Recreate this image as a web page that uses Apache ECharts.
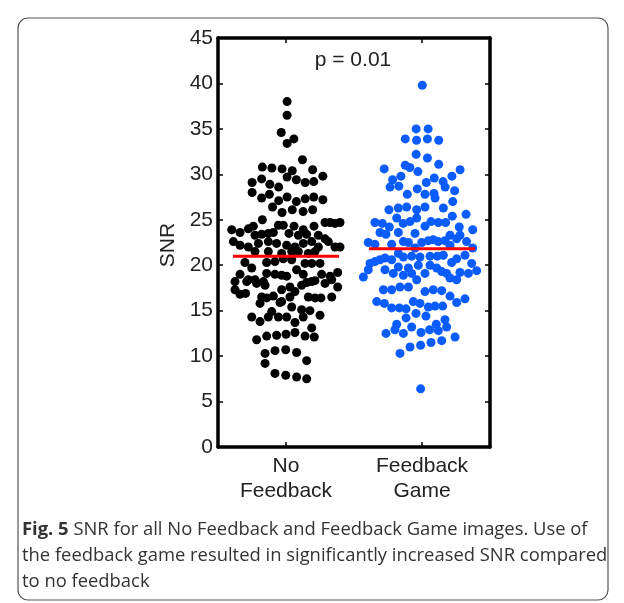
<!DOCTYPE html>
<html><head><meta charset="utf-8">
<script src="https://cdn.jsdelivr.net/npm/echarts@6/dist/echarts.min.js"></script>
<style>html,body{margin:0;padding:0;background:#fff}#c{width:624px;height:603px}</style>
</head><body><div id="c"></div><script>
// ---- data ----
const categories = ['No\nFeedback', 'Feedback\nGame'];
const yTicks = [0, 5, 10, 15, 20, 25, 30, 35, 40, 45];
const pValueText = 'p = 0.01';
const medians = [21.0, 21.8];

// No Feedback: horizontal swarm offset from the category centre, and SNR
const noFeedbackOffset = [
 0.008,0.008,-0.035,0.008,0.058,0.121,-0.174,-0.104,-0.029,0.046,
 0.196,-0.249,-0.179,-0.119,-0.054,0.008,0.076,0.141,0.204,0.271,
 -0.249,-0.179,-0.122,-0.054,0.008,0.076,0.141,0.204,0.271,-0.099,
 -0.029,0.046,0.126,0.196,-0.174,-0.056,-0.020,0.059,0.206,0.287,
 0.324,0.360,0.397,-0.399,-0.338,-0.277,-0.240,-0.228,-0.179,-0.130,
 -0.093,0.022,0.091,0.127,0.152,0.238,0.287,-0.387,-0.338,-0.277,
 -0.203,-0.130,-0.069,0.005,0.066,0.127,0.189,0.238,0.311,0.360,
 0.397,-0.228,-0.130,-0.032,0.042,0.091,0.164,0.213,-0.302,-0.252,
 -0.142,-0.081,-0.020,0.042,0.140,0.189,0.250,-0.338,-0.277,-0.228,
 -0.166,-0.142,-0.081,-0.032,0.005,0.078,0.127,0.189,0.262,0.324,
 0.380,-0.375,-0.289,-0.216,-0.154,-0.032,0.029,0.115,0.152,0.213,
 0.287,0.336,0.380,-0.375,-0.338,-0.297,-0.179,-0.142,-0.093,-0.032,
 0.029,0.066,0.164,0.213,0.257,0.336,-0.191,-0.044,0.042,0.115,
 0.176,-0.252,-0.191,-0.130,-0.105,-0.056,0.005,0.066,0.127,0.189,
 0.250,-0.216,-0.142,-0.069,0.000,0.066,0.140,0.208,-0.154,-0.154,
 -0.081,-0.002,0.078,0.152,-0.081,-0.002,0.078,0.152
];
const noFeedbackSNR = [
 38.0,36.5,34.6,33.4,33.9,31.6,30.8,30.7,30.6,30.4,
 30.5,29.1,29.5,28.9,28.6,29.7,29.4,29.1,29.2,29.8,
 28.0,27.4,27.8,27.1,27.5,27.0,27.3,27.5,27.2,26.4,
 25.8,26.1,25.9,26.1,25.0,24.4,24.4,24.3,24.3,24.7,
 24.7,24.6,24.7,23.9,23.6,24.0,24.3,23.3,23.4,23.5,
 23.6,23.5,23.3,23.9,23.4,23.3,22.9,22.6,22.2,22.0,
 22.4,22.6,22.4,22.2,22.0,22.4,22.6,22.0,22.6,22.0,
 22.0,21.5,21.5,21.3,21.5,21.5,21.3,21.5,20.3,19.7,
 20.3,20.4,20.7,20.6,20.2,20.2,20.2,19.0,18.4,18.4,
 18.2,19.1,19.0,18.9,18.8,19.5,19.0,18.2,19.0,18.8,
 19.2,18.2,18.2,18.0,17.8,17.3,17.6,17.8,18.1,18.3,
 18.0,18.4,17.6,17.3,16.8,16.9,16.5,16.4,16.6,16.0,
 16.5,17.1,16.5,16.4,16.4,16.5,15.8,15.9,15.4,15.1,
 15.0,14.3,13.8,14.3,14.9,14.3,14.3,13.7,14.3,13.1,
 14.5,11.8,12.2,12.3,12.4,12.6,12.2,12.1,10.3,9.2,
 10.6,10.7,10.4,9.5,8.1,7.9,7.7,7.5
];

// Feedback Game: horizontal swarm offset from the category centre, and SNR
const feedbackOffset = [
 0.002,-0.043,0.045,-0.123,-0.040,0.040,0.123,-0.043,0.040,-0.278,
 -0.123,-0.090,-0.030,0.123,0.280,-0.216,-0.155,0.032,0.090,0.155,
 0.220,-0.235,-0.170,-0.035,0.170,0.240,-0.108,0.022,0.088,0.096,
 0.226,0.157,0.022,-0.039,-0.113,-0.174,-0.243,-0.186,-0.039,0.223,
 0.324,-0.138,-0.088,-0.346,-0.292,-0.240,0.022,0.066,0.120,0.174,
 0.274,0.373,-0.309,-0.265,-0.174,-0.051,0.206,0.279,-0.395,-0.346,
 -0.223,-0.137,-0.100,-0.051,-0.002,0.047,0.083,0.120,0.169,0.206,
 0.255,0.328,0.373,-0.382,-0.346,-0.309,-0.272,-0.223,-0.174,-0.137,
 -0.076,-0.015,0.059,0.113,0.157,0.218,0.255,0.316,0.365,-0.431,
 -0.395,-0.272,-0.211,-0.174,-0.137,-0.100,-0.076,-0.039,-0.027,0.022,
 0.059,0.108,0.145,0.181,0.206,0.255,0.279,0.341,0.402,-0.284,
 -0.223,-0.162,-0.100,0.022,0.083,0.145,0.206,0.255,0.316,-0.333,
 -0.277,-0.223,-0.166,-0.117,-0.064,-0.015,0.047,0.096,0.152,-0.117,
 -0.044,0.029,0.169,-0.265,-0.199,-0.186,-0.137,-0.076,-0.007,0.056,
 0.105,0.120,0.181,0.243,-0.162,-0.088,-0.010,0.066,0.145,-0.010
];
const feedbackSNR = [
 39.8,35.0,35.0,33.9,33.75,33.9,33.75,32.2,31.8,30.6,
 31.0,30.75,30.3,31.1,30.5,29.4,29.8,29.1,29.6,29.2,
 29.8,28.6,28.7,28.4,28.6,28.2,27.8,27.8,27.9,27.4,
 27.0,26.3,26.4,26.1,26.4,26.3,26.1,25.2,25.2,25.4,
 25.6,24.6,24.8,24.7,24.6,24.2,24.3,24.8,24.7,24.7,
 24.2,23.9,23.6,23.4,23.6,23.5,23.3,23.3,22.5,22.3,
 22.3,22.6,22.5,21.9,22.5,22.7,22.8,22.6,22.7,22.2,
 22.9,22.6,21.9,20.2,20.4,20.6,20.8,20.6,21.3,20.9,
 21.0,20.9,21.0,21.0,21.1,20.3,20.7,21.1,20.2,18.7,
 19.5,19.5,19.1,19.8,18.9,19.7,19.1,18.4,20.0,19.1,
 20.0,19.7,19.3,19.1,18.6,18.4,19.2,19.1,19.4,17.3,
 17.3,17.6,17.6,17.1,17.3,17.2,16.6,15.9,16.3,16.0,
 15.8,15.3,15.3,15.2,16.0,15.8,15.4,15.5,15.5,14.2,
 14.7,14.4,14.0,12.5,12.9,13.5,12.5,13.2,12.6,12.9,
 13.5,12.8,13.2,12.1,10.3,11.0,11.2,11.5,11.7,6.4
];

// ---- build chart ----
const groupCenters = [1, 2];
const medianHalfWidth = 0.39;
function pts(center, offs, vals) { return vals.map((v, i) => [center + offs[i], v]); }

const FONT = 'Liberation Sans, Arial, Helvetica, sans-serif';
const chart = echarts.init(document.getElementById('c'), null, {renderer: 'canvas'});
const axisLine = {show: true, onZero: false, lineStyle: {color: '#000', width: 3.5}};
const tick = {show: true, inside: true, length: 5, lineStyle: {color: '#000', width: 1.5}};

chart.setOption({
  backgroundColor: '#fff',
  animation: false,
  grid: {left: 218, top: 38, width: 272, height: 409, containLabel: false},
  xAxis: [
    {type: 'value', min: 0.5, max: 2.5, position: 'bottom',
     axisLine: axisLine, splitLine: {show: false},
     axisTick: Object.assign({customValues: groupCenters}, tick),
     axisLabel: {customValues: groupCenters, margin: 7, fontSize: 21, lineHeight: 25,
       color: '#222', fontFamily: FONT,
       formatter: v => categories[Math.round(v) - 1] || ''}},
    {type: 'value', min: 0.5, max: 2.5, position: 'top',
     axisLine: axisLine, splitLine: {show: false},
     axisTick: Object.assign({customValues: groupCenters}, tick),
     axisLabel: {show: false}}
  ],
  yAxis: [
    {type: 'value', min: yTicks[0], max: yTicks[yTicks.length - 1], interval: 5, position: 'left',
     axisLine: axisLine, splitLine: {show: false}, axisTick: tick,
     axisLabel: {margin: 5, fontSize: 21, color: '#222', fontFamily: FONT}},
    {type: 'value', min: yTicks[0], max: yTicks[yTicks.length - 1], interval: 5, position: 'right',
     axisLine: axisLine, splitLine: {show: false}, axisTick: tick, axisLabel: {show: false}}
  ],
  series: [
    {type: 'scatter', name: categories[0], data: pts(groupCenters[0], noFeedbackOffset, noFeedbackSNR),
     symbolSize: 9, itemStyle: {color: '#000', opacity: 1}, z: 2},
    {type: 'scatter', name: categories[1], data: pts(groupCenters[1], feedbackOffset, feedbackSNR),
     symbolSize: 9, itemStyle: {color: '#0b5cff', opacity: 1}, z: 2},
    {type: 'line', data: [[groupCenters[0] - medianHalfWidth, medians[0]], [groupCenters[0] + medianHalfWidth, medians[0]]],
     symbol: 'none', lineStyle: {color: '#ff0000', width: 3}, z: 5, silent: true},
    {type: 'line', data: [[groupCenters[1] - medianHalfWidth, medians[1]], [groupCenters[1] + medianHalfWidth, medians[1]]],
     symbol: 'none', lineStyle: {color: '#ff0000', width: 3}, z: 5, silent: true}
  ],
  graphic: [
    {type: 'rect', shape: {x: 18, y: 18, width: 590, height: 582, r: 10},
     style: {fill: 'none', stroke: '#555', lineWidth: 1.2}, z: -1},
    {type: 'text', x: 353, y: 60, style: {text: pValueText, font: '21px ' + FONT, fill: '#222',
     textAlign: 'center', textVerticalAlign: 'middle'}},
    {type: 'text', x: 168, y: 245, rotation: Math.PI / 2, style: {text: 'SNR', font: '21px ' + FONT, fill: '#222',
     textAlign: 'center', textVerticalAlign: 'middle'}},
    {type: 'text', x: 22, y: 517, style: {
      text: '{b|Fig. 5} SNR for all No Feedback and Feedback Game images. Use of\nthe feedback game resulted in significantly increased SNR compared\nto no feedback',
      fontFamily: 'Open Sans', fontSize: 18.4, lineHeight: 26, fill: '#333',
      rich: {b: {fontFamily: 'Open Sans', fontWeight: 'bold', fontSize: 18.4, fill: '#333'}}}}
  ]
});
</script></body></html>
